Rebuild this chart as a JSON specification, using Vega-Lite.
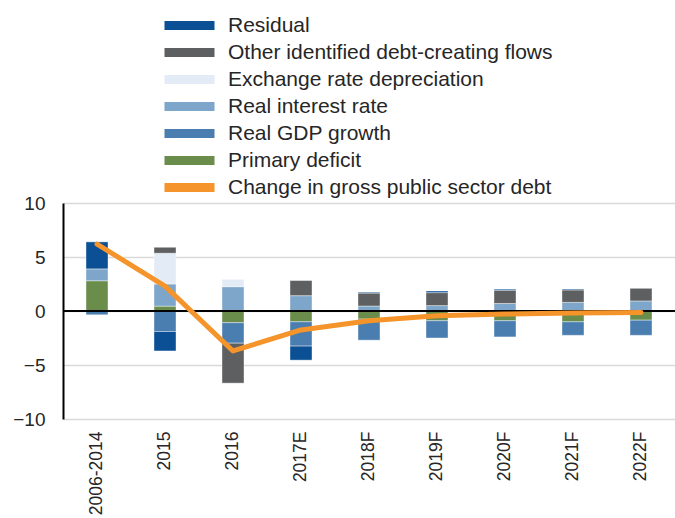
{
  "$schema": "https://vega.github.io/schema/vega-lite/v6.json",
  "width": 612,
  "height": 216,
  "autosize": {"type": "none"},
  "padding": {"left": 63, "top": 203, "right": 0, "bottom": 99},
  "background": "white",
  "config": {
    "font": "Liberation Sans",
    "view": {"stroke": null}
  },
  "datasets": {
    "bars": [
      {"period": "2006-2014", "series": "Primary deficit", "order": 1, "value": 2.8},
      {"period": "2006-2014", "series": "Real GDP growth", "order": 2, "value": -0.35},
      {"period": "2006-2014", "series": "Real interest rate", "order": 3, "value": 1.1},
      {"period": "2006-2014", "series": "Residual", "order": 6, "value": 2.5},
      {"period": "2015", "series": "Primary deficit", "order": 1, "value": 0.45},
      {"period": "2015", "series": "Real GDP growth", "order": 2, "value": -1.9},
      {"period": "2015", "series": "Real interest rate", "order": 3, "value": 2.05},
      {"period": "2015", "series": "Exchange rate depreciation", "order": 4, "value": 2.85},
      {"period": "2015", "series": "Other identified debt-creating flows", "order": 5, "value": 0.55},
      {"period": "2015", "series": "Residual", "order": 6, "value": -1.8},
      {"period": "2016", "series": "Primary deficit", "order": 1, "value": -1.08},
      {"period": "2016", "series": "Real GDP growth", "order": 2, "value": -1.9},
      {"period": "2016", "series": "Real interest rate", "order": 3, "value": 2.25},
      {"period": "2016", "series": "Exchange rate depreciation", "order": 4, "value": 0.68},
      {"period": "2016", "series": "Other identified debt-creating flows", "order": 5, "value": -3.7},
      {"period": "2017E", "series": "Primary deficit", "order": 1, "value": -1.0},
      {"period": "2017E", "series": "Real GDP growth", "order": 2, "value": -2.25},
      {"period": "2017E", "series": "Real interest rate", "order": 3, "value": 1.42},
      {"period": "2017E", "series": "Other identified debt-creating flows", "order": 5, "value": 1.4},
      {"period": "2017E", "series": "Residual", "order": 6, "value": -1.3},
      {"period": "2018F", "series": "Primary deficit", "order": 1, "value": -0.75},
      {"period": "2018F", "series": "Real GDP growth", "order": 2, "value": -1.95},
      {"period": "2018F", "series": "Real interest rate", "order": 3, "value": 0.46},
      {"period": "2018F", "series": "Other identified debt-creating flows", "order": 5, "value": 1.2},
      {"period": "2018F", "series": "Residual", "order": 6, "value": 0.08},
      {"period": "2019F", "series": "Primary deficit", "order": 1, "value": -0.9},
      {"period": "2019F", "series": "Real GDP growth", "order": 2, "value": -1.6},
      {"period": "2019F", "series": "Real interest rate", "order": 3, "value": 0.5},
      {"period": "2019F", "series": "Other identified debt-creating flows", "order": 5, "value": 1.2},
      {"period": "2019F", "series": "Residual", "order": 6, "value": 0.15},
      {"period": "2020F", "series": "Primary deficit", "order": 1, "value": -0.9},
      {"period": "2020F", "series": "Real GDP growth", "order": 2, "value": -1.5},
      {"period": "2020F", "series": "Real interest rate", "order": 3, "value": 0.7},
      {"period": "2020F", "series": "Other identified debt-creating flows", "order": 5, "value": 1.22},
      {"period": "2020F", "series": "Residual", "order": 6, "value": 0.1},
      {"period": "2021F", "series": "Primary deficit", "order": 1, "value": -1.0},
      {"period": "2021F", "series": "Real GDP growth", "order": 2, "value": -1.25},
      {"period": "2021F", "series": "Real interest rate", "order": 3, "value": 0.8},
      {"period": "2021F", "series": "Other identified debt-creating flows", "order": 5, "value": 1.15},
      {"period": "2021F", "series": "Residual", "order": 6, "value": 0.08},
      {"period": "2022F", "series": "Primary deficit", "order": 1, "value": -0.85},
      {"period": "2022F", "series": "Real GDP growth", "order": 2, "value": -1.4},
      {"period": "2022F", "series": "Real interest rate", "order": 3, "value": 0.93},
      {"period": "2022F", "series": "Other identified debt-creating flows", "order": 5, "value": 1.17}
    ],
    "line": [
      {"period": "2006-2014", "series": "Change in gross public sector debt", "value": 6.2},
      {"period": "2015", "series": "Change in gross public sector debt", "value": 2.3},
      {"period": "2016", "series": "Change in gross public sector debt", "value": -3.7},
      {"period": "2017E", "series": "Change in gross public sector debt", "value": -1.75},
      {"period": "2018F", "series": "Change in gross public sector debt", "value": -0.9},
      {"period": "2019F", "series": "Change in gross public sector debt", "value": -0.45},
      {"period": "2020F", "series": "Change in gross public sector debt", "value": -0.28},
      {"period": "2021F", "series": "Change in gross public sector debt", "value": -0.18},
      {"period": "2022F", "series": "Change in gross public sector debt", "value": -0.15}
    ],
    "zero": [{"v": 0}]
  },
  "encoding": {
    "x": {
      "field": "period",
      "type": "nominal",
      "sort": null,
      "scale": {"paddingInner": 0, "paddingOuter": 0},
      "axis": {
        "title": null,
        "labelAngle": 270,
        "labelAlign": "right",
        "labelBaseline": "middle",
        "labelFontSize": 17.5,
        "labelColor": "#262626",
        "labelPadding": 12,
        "ticks": false,
        "domain": false,
        "grid": false
      }
    }
  },
  "layer": [
    {
      "data": {"name": "bars"},
      "mark": {"type": "bar", "size": 22, "stroke": "white", "strokeWidth": 0.4},
      "encoding": {
        "y": {
          "field": "value",
          "type": "quantitative",
          "stack": "zero",
          "scale": {"domain": [-10, 10], "nice": false},
          "axis": {
            "title": null,
            "values": [-10, -5, 0, 5, 10],
            "labelFontSize": 19,
            "labelColor": "#262626",
            "labelPadding": 18,
            "ticks": false,
            "domainColor": "black",
            "domainWidth": 2,
            "gridColor": "#d9d9d9",
            "gridWidth": 1.5
          }
        },
        "order": {"field": "order", "type": "quantitative"},
        "color": {
          "field": "series",
          "type": "nominal",
          "scale": {
            "domain": ["Residual", "Other identified debt-creating flows", "Exchange rate depreciation", "Real interest rate", "Real GDP growth", "Primary deficit", "Change in gross public sector debt"],
            "range": ["#0B4F94", "#5E5F61", "#E3ECF6", "#7EA6CB", "#4A7EB0", "#6A8D4C", "#F4942A"]
          },
          "legend": {
            "title": null,
            "orient": "none",
            "legendX": 116,
            "legendY": -188,
            "padding": 0,
            "symbolType": "M-3,-0.55H3V0.55H-3Z",
            "symbolSize": 278,
            "symbolStrokeWidth": 0,
            "labelOffset": 28,
            "labelFontSize": 21,
            "labelColor": "#262626",
            "labelLimit": 450,
            "rowPadding": 5
          }
        }
      }
    },
    {
      "data": {"name": "zero"},
      "mark": {"type": "rule", "color": "black", "strokeWidth": 2},
      "encoding": {
        "x": null,
        "y": {"field": "v", "type": "quantitative"}
      }
    },
    {
      "data": {"name": "line"},
      "mark": {"type": "line", "strokeWidth": 5, "strokeCap": "round", "strokeJoin": "round"},
      "encoding": {
        "y": {"field": "value", "type": "quantitative"},
        "color": {"field": "series", "type": "nominal"}
      }
    }
  ]
}
